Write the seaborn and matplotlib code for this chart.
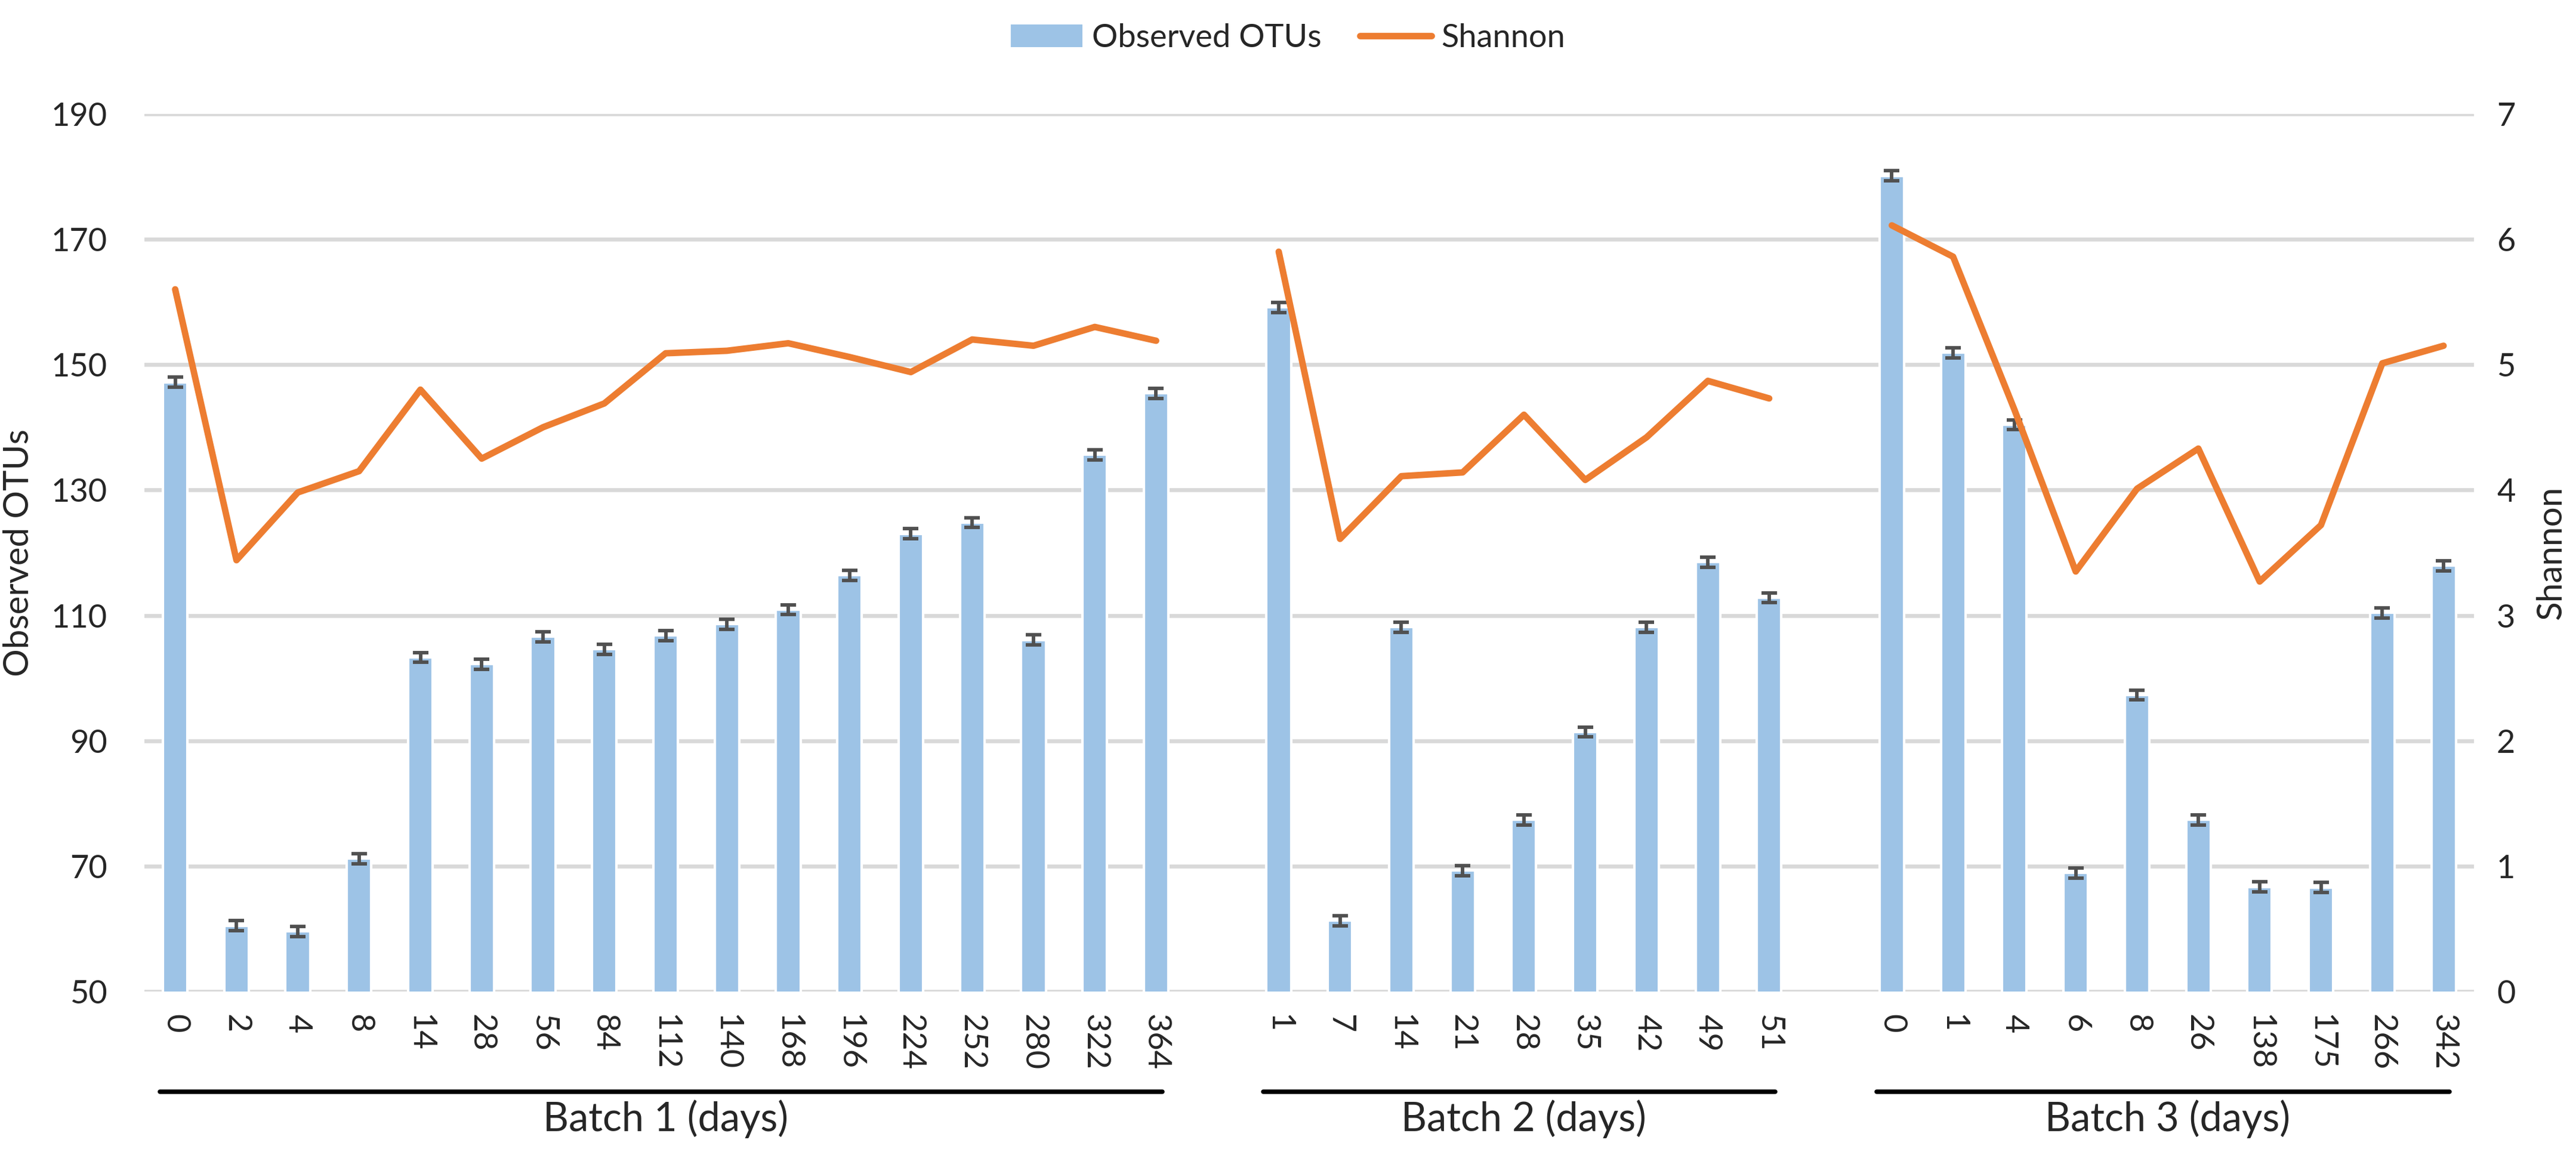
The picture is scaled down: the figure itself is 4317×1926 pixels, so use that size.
import numpy as np
import pandas as pd
import matplotlib.pyplot as plt
import seaborn as sns
from matplotlib.lines import Line2D
from matplotlib.patches import Patch

# Data
batch1_days = ["0", "2", "4", "8", "14", "28", "56", "84", "112", "140", "168", "196", "224", "252", "280", "322", "364"]
batch1_otus = [147.2, 60.5, 59.6, 71.2, 103.3, 102.2, 106.6, 104.6, 106.8, 108.6, 110.9, 116.4, 123.0, 124.8, 106.1, 135.6, 145.4]
batch1_shannon = [5.60, 3.44, 3.98, 4.15, 4.80, 4.25, 4.50, 4.69, 5.09, 5.11, 5.17, 5.06, 4.94, 5.20, 5.15, 5.30, 5.19]

batch2_days = ["1", "7", "14", "21", "28", "35", "42", "49", "51"]
batch2_otus = [159.1, 61.3, 108.1, 69.3, 77.4, 91.4, 108.1, 118.5, 112.8]
batch2_shannon = [5.90, 3.61, 4.11, 4.14, 4.60, 4.08, 4.42, 4.87, 4.73]

batch3_days = ["0", "1", "4", "6", "8", "26", "138", "175", "266", "342"]
batch3_otus = [180.1, 151.9, 140.4, 68.9, 97.3, 77.4, 66.7, 66.6, 110.4, 117.9]
batch3_shannon = [6.11, 5.86, 4.64, 3.35, 4.01, 4.33, 3.27, 3.72, 5.01, 5.15]

otu_err = 0.8
batch_names = ["Batch 1 (days)", "Batch 2 (days)", "Batch 3 (days)"]

# Build one table, leaving an empty slot between batches
rows = []
slot = 0
for name, days, otus, sh in zip(batch_names,
                                [batch1_days, batch2_days, batch3_days],
                                [batch1_otus, batch2_otus, batch3_otus],
                                [batch1_shannon, batch2_shannon, batch3_shannon]):
    for d, o, s in zip(days, otus, sh):
        rows.append({"pos": slot, "day": d, "otus": o, "shannon": s, "batch": name})
        slot += 1
    slot += 1
df = pd.DataFrame(rows)

sns.set_style("white")
plt.rcParams["font.family"] = ["Lato", "DejaVu Sans"]

blue = "#9DC3E6"
orange = "#ED7D31"
grid = "#D9D9D9"

fig = plt.figure(figsize=(4317 / 300, 1926 / 300), dpi=300)
ax = fig.add_axes([0.0561, 0.137, 0.9044, 0.764])
ax2 = ax.twinx()

# Bars
sns.barplot(data=df, x="pos", y="otus", native_scale=True, width=0.4,
            color=blue, saturation=1, errorbar=None, ax=ax, zorder=2)
ax.errorbar(df["pos"], df["otus"], yerr=otu_err, fmt="none", ecolor="#505050",
            elinewidth=1.4, capsize=3.2, capthick=1.4, zorder=3)

# Shannon line, separate per batch
for name in batch_names:
    sub = df[df["batch"] == name]
    sns.lineplot(data=sub, x="pos", y="shannon", color=orange, linewidth=2.6,
                 ax=ax2, zorder=4)

ax.set_ylim(50, 190)
ax.set_yticks(np.arange(50, 191, 20))
ax2.set_ylim(0, 7)
ax2.set_yticks(np.arange(0, 8, 1))
ax.set_xlim(-0.5, df["pos"].max() + 0.5)

ax.grid(axis="y", color=grid, linewidth=1.6, zorder=0)
ax.set_axisbelow(True)
for a in (ax, ax2):
    for sp in a.spines.values():
        sp.set_visible(False)
ax2.grid(False)

ax.set_xticks(df["pos"])
ax.set_xticklabels(df["day"], rotation=270, fontsize=13)
ax.tick_params(axis="x", length=0, pad=9)
ax.tick_params(axis="y", length=0, pad=15, labelsize=13)
ax2.tick_params(axis="y", length=0, pad=9, labelsize=13)

ax.set_xlabel("")
ax.set_ylabel("Observed OTUs", fontsize=14, va="center")
ax2.set_ylabel("Shannon", fontsize=14, va="center", rotation=90)
ax.yaxis.set_label_coords(-0.054, 0.5)
ax2.yaxis.set_label_coords(1.033, 0.5)

# Batch brackets and labels
trans = ax.get_xaxis_transform()
for name in batch_names:
    sub = df[df["batch"] == name]
    x0, x1 = sub["pos"].min(), sub["pos"].max()
    ax.plot([x0 - 0.25, x1 + 0.1], [-0.114, -0.114], color="black", linewidth=1.8,
            transform=trans, clip_on=False)
    ax.text((x0 + x1) / 2, -0.145, name, transform=trans, ha="center", va="center",
            fontsize=16)

handles = [Patch(facecolor=blue, edgecolor="none", label="Observed OTUs"),
           Line2D([0], [0], color=orange, linewidth=2.6, label="Shannon")]
fig.legend(handles=handles, loc="upper center", bbox_to_anchor=(0.5, 1.005), ncol=2,
           frameon=False, fontsize=13, handlelength=2.2, columnspacing=1.2,
           handletextpad=0.3)

fig.savefig("out.png", dpi=300)
